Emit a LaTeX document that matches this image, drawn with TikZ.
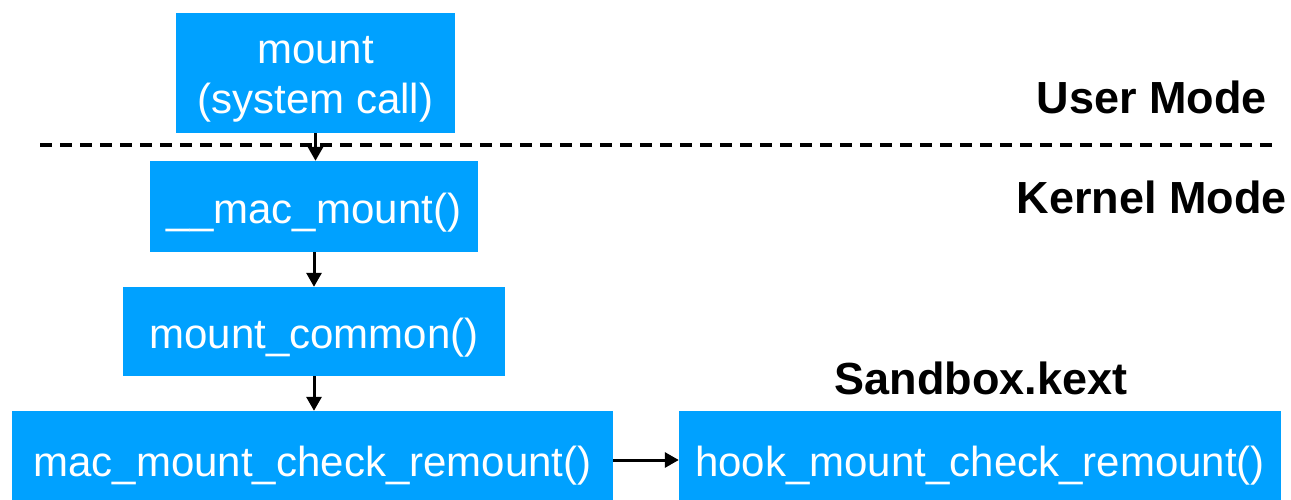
\documentclass[tikz,border=0pt]{standalone}
\usepackage{fontspec}
\setmainfont{Liberation Sans}
\usetikzlibrary{arrows.meta}
\definecolor{boxblue}{RGB}{0,161,255}
\begin{document}
\begin{tikzpicture}[x=1pt,y=-1pt,
  fnbox/.style={fill=boxblue,inner sep=0pt},
  fntext/.style={text=white,inner sep=0pt,align=center,yshift=-6.5pt,
    font=\fontsize{42}{50}\selectfont},
  modelabel/.style={inner sep=0pt,font=\fontsize{45}{54}\selectfont\bfseries},
  flow/.style={line width=3pt,-{Triangle[length=14pt,width=15pt]}}]
\useasboundingbox (0,0) rectangle (1291,500);
\clip (0,0) rectangle (1291,500);
\node[fnbox,minimum width=279pt,minimum height=120pt,
  label={[fntext]center:{mount\\(system call)}}] (mount) at (315.5,73) {};
\node[fnbox,minimum width=328pt,minimum height=91pt,
  label={[fntext]center:\_\_mac\_mount()}] (macm) at (314,206.5) {};
\node[fnbox,minimum width=382pt,minimum height=89pt,
  label={[fntext]center:mount\_common()}] (common) at (314,331.5) {};
\node[fnbox,minimum width=601pt,minimum height=102pt,
  label={[fntext,yshift=3pt]center:mac\_mount\_check\_remount()}] (check) at (312.5,462) {};
\node[fnbox,minimum width=602pt,minimum height=102pt,
  label={[fntext,yshift=3pt]center:hook\_mount\_check\_remount()}] (hook) at (980,462) {};
\coordinate (dl) at (40,145);
\coordinate (dr) at (1276,145);
\draw[line width=4pt,dash pattern=on 12pt off 8pt] (dl) -- (dr);
\node[modelabel,anchor=east] (user) at (1267,97) {User Mode};
\node[modelabel,anchor=east] (kernel) at (1287,197) {Kernel Mode};
\node[modelabel] (sandbox) at (981,378) {Sandbox.kext};
\draw[flow] (mount.south) -- (mount.south |- macm.north);
\draw[flow] (macm.south) -- (macm.south |- common.north);
\draw[flow] (common.south) -- (common.south |- check.north);
\draw[flow] ([yshift=2pt]check.east) -- ([yshift=2pt]hook.west);
\end{tikzpicture}
\end{document}
